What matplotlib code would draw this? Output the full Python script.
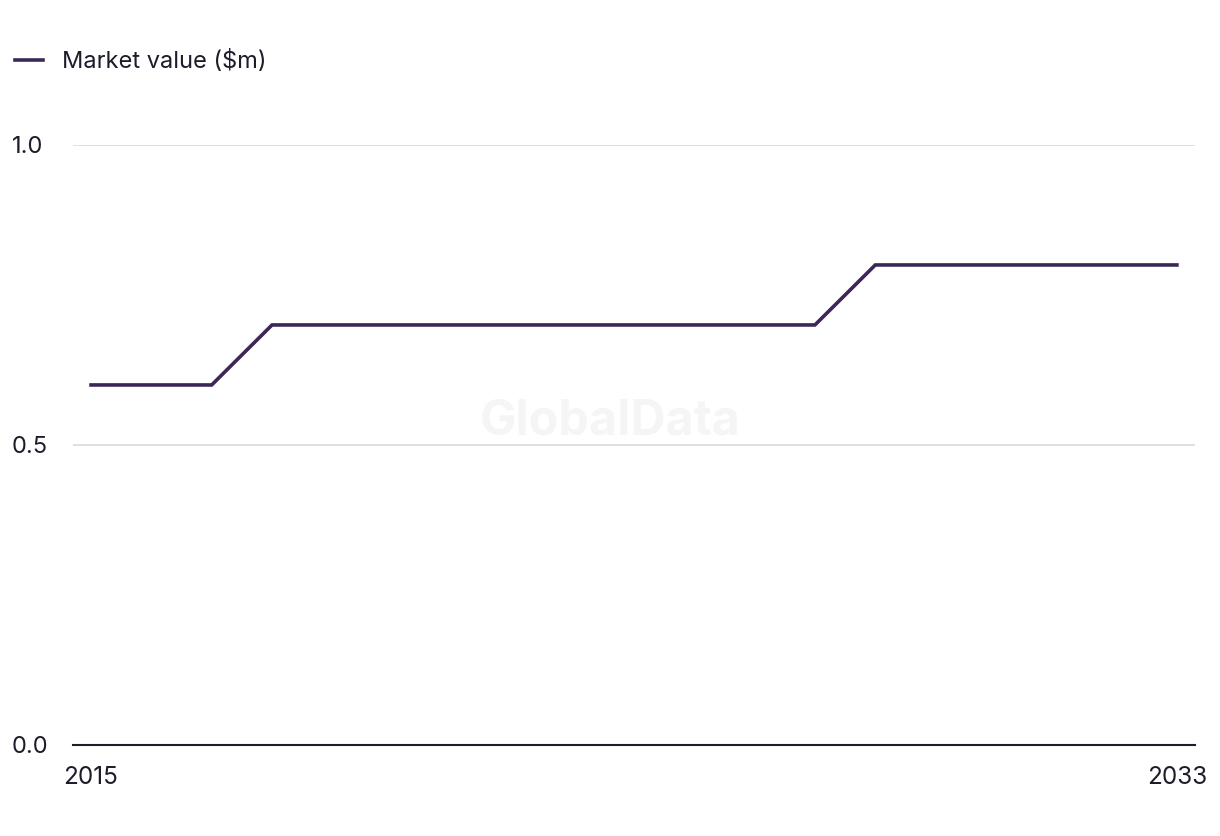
import matplotlib
matplotlib.use("Agg")
import matplotlib.pyplot as plt
from matplotlib.lines import Line2D

years = list(range(2015, 2034))
market_value = [0.6, 0.6, 0.6, 0.7, 0.7, 0.7, 0.7, 0.7, 0.7, 0.7,
                0.7, 0.7, 0.7, 0.8, 0.8, 0.8, 0.8, 0.8, 0.8]
y_ticks = [0.0, 0.5, 1.0]
x_ticks = [2015, 2033]

LINE_COLOR = "#3b2856"
TEXT_COLOR = "#1c1c2b"

plt.rcParams["font.family"] = ["Inter", "DejaVu Sans"]

fig = plt.figure(figsize=(12.2, 8.36), dpi=100)
ax = fig.add_axes([0.0598, 0.1089, 0.9197, 0.7177])

ax.plot(years, market_value, color=LINE_COLOR, linewidth=2.6, solid_joinstyle="miter")

ax.set_xlim(2014.7, 2033.3)
ax.set_ylim(0, 1.0)
ax.set_yticks(y_ticks)
ax.set_yticklabels([f"{v:.1f}" for v in y_ticks], ha="left")
ax.set_xticks(x_ticks)
ax.set_xticklabels([str(x) for x in x_ticks])
ax.tick_params(axis="y", length=0, pad=44, labelsize=17, labelcolor=TEXT_COLOR)
ax.tick_params(axis="x", length=0, pad=15, labelsize=17.5, labelcolor=TEXT_COLOR)

ax.grid(axis="y", color="#d9d9d9", linewidth=1.2)
ax.set_axisbelow(True)
for side in ["top", "right", "left"]:
    ax.spines[side].set_visible(False)
ax.spines["bottom"].set_color(TEXT_COLOR)
ax.spines["bottom"].set_linewidth(1.5)

# faint watermark
ax.text(0.4786, 0.50, "GlobalData", transform=ax.transAxes, ha="center", va="bottom",
        fontsize=35, fontweight="bold", color="#f5f5f5", zorder=0)

# legend
handle = Line2D([], [], color=LINE_COLOR, linewidth=2.6)
fig.legend([handle], ["Market value ($m)"], loc="center left",
           bbox_to_anchor=(-0.005, 0.926), frameon=False, fontsize=17,
           handlelength=1.2, handletextpad=0.8, labelcolor=TEXT_COLOR)

plt.savefig("out.png", dpi=100)
